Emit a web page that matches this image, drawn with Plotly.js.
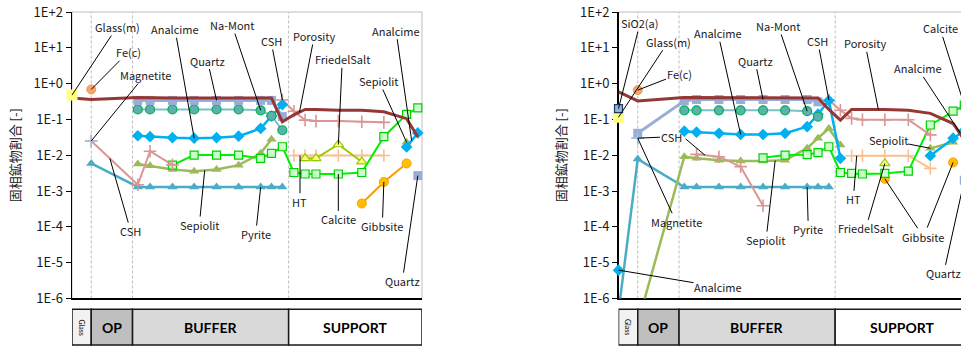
<!DOCTYPE html>
<html>
<head>
<meta charset="utf-8">
<script src="https://cdn.plot.ly/plotly-3.0.1.min.js"></script>
<style>
  html, body { margin: 0; padding: 0; overflow: hidden; background: #fff; }
  #chart { width: 975px; height: 349px; }
</style>
</head>
<body>
<div id="chart"></div>
<script>
// ---- geometry of the cross-section (node positions, 0 = glass, 100 = outer edge of support)
const nodePos = [0, 5.5, 18.8, 22.3, 28.7, 34.9, 41.3, 47.6, 53.9, 57.0, 60.1,
                 63.4, 66.6, 69.7, 76.1, 82.8, 89.1, 95.6, 98.8];
const zoneEdges = [0, 5.5, 17.3, 61.9, 100];
const zoneNames = ['Glass', 'OP', 'BUFFER', 'SUPPORT'];
const yTickVals = [1e-6, 1e-5, 1e-4, 1e-3, 1e-2, 1e-1, 1e0, 1e1, 1e2];
const yTickText = ['1E-6', '1E-5', '1E-4', '1E-3', '1E-2', '1E-1', '1E+0', '1E+1', '1E+2'];
const yTitle = '固相鉱物割合 [-]';

// ---- case A (left panel): solid-phase fractions per node
const porosityA  = [0.40, 0.36, 0.41, 0.40, 0.40, 0.40, 0.40, 0.40, 0.40, 0.40, 0.086, 0.135, 0.19, 0.19, 0.18, 0.18, 0.164, 0.105, 0.033];
const quartzA    = [null, null, 0.34, 0.34, 0.34, 0.34, 0.34, 0.34, 0.34, 0.34, 0.12, null, null, null, null, null, null, null, 0.0027];
const naMontA    = [null, null, 0.19, 0.19, 0.19, 0.19, 0.19, 0.19, 0.18, 0.125, 0.05];
const analcimeA  = [null, null, 0.035, 0.033, 0.031, 0.030, 0.031, 0.034, 0.056, 0.124, 0.26, null, null, null, null, null, null, 0.017, 0.042];
const sepiolitA  = [null, null, 0.0057, 0.0051, 0.0040, 0.0036, 0.0040, 0.0053, 0.0113, 0.028, null, null, null, null, null, null, null, 0.023];
const calciteA   = [null, null, null, null, 0.0053, 0.0101, 0.0101, 0.0101, 0.0082, 0.0113, 0.0173, 0.0033, 0.0030, 0.0030, 0.0030, 0.0033, 0.033, 0.139, 0.21];
const pyriteA    = [null, 0.0059, 0.0013, 0.0013, 0.0013, 0.0013, 0.0013, 0.0013, 0.0013, 0.0013, 0.0013];
const cshA       = [null, 0.025, 0.0015, 0.013, 0.0054, null, null, null, null, null, 0.35, 0.17, 0.096, 0.090, 0.090, 0.086, 0.083];
const htA        = [null, null, null, null, null, null, null, null, null, null, null, 0.0098, 0.0098, 0.0098, 0.0098, 0.0098, 0.0098];
const friedelA   = [null, null, null, null, null, null, null, null, null, null, null, null, 0.0082, 0.0082, 0.020, 0.0066];
const gibbsiteA  = [null, null, null, null, null, null, null, null, null, null, null, null, null, null, null, 0.00045, 0.0018, 0.0059];
const glassmA    = [0.48];
const fecA       = [null, 0.69];
const magnetiteA = [null, 0.025];

// ---- case B (right panel)
const porosityB  = [0.59, 0.33, 0.41, 0.41, 0.41, 0.41, 0.41, 0.40, 0.40, 0.40, 0.19, 0.096, 0.19, 0.19, 0.19, 0.18, 0.148, 0.077, 0.027];
const quartzB    = [null, 0.041, 0.33, 0.36, 0.36, 0.36, 0.36, 0.36, 0.36, 0.31, null, null, null, null, null, null, null, null, 0.002];
const naMontB    = [null, null, 0.18, 0.18, 0.18, 0.18, 0.18, 0.18, 0.17, 0.119];
const analcimeB  = [6.2e-6, null, 0.047, 0.044, 0.041, 0.038, 0.038, 0.041, 0.063, 0.14, 0.34, 0.0082, null, null, null, null, 0.0097, 0.030, 0.05];
const sepiolitB  = [null, 2e-7, 0.0091, 0.0082, 0.0073, 0.0069, 0.0069, 0.0073, 0.0158, 0.030, 0.056, 0.0193, null, null, null, null, 0.0156, 0.023];
const calciteB   = [null, null, null, null, null, null, 0.0085, 0.0101, 0.0104, 0.0119, 0.0173, 0.0033, 0.0031, 0.0030, 0.0031, 0.0036, 0.070, 0.17, 0.25];
const pyriteB    = [4.2e-7, 0.0078, 0.0013, 0.0013, 0.0013, 0.0013, 0.0013, 0.0013, 0.0013, 0.0013, 0.0013];
const cshB       = [null, 0.030, null, 0.0106, 0.0091, 0.0048, 0.00039, null, null, null, 0.35, 0.18, 0.107, 0.098, 0.098, 0.098, 0.037];
const htB        = [null, null, null, null, null, null, null, null, null, null, null, null, 0.0097, 0.0097, 0.0097, 0.0097, 0.0043];
const friedelB   = [null, null, null, null, null, null, null, null, null, null, null, null, null, null, 0.0059];
const gibbsiteB  = [null, null, null, null, null, null, null, null, null, null, null, null, null, null, 0.0022, null, null, 0.0063];
const glassmB    = [0.115];
const sio2B      = [0.20];
const fecB       = [null, 0.66];
const magnetiteB = [null, 0.030];

// ---- series appearance
const crossLine = c => ({ color: c, width: 1.6 });
const styles = {
  pyrite:    { mode: 'lines+markers', line: { color: '#4BACC6', width: 2.5 }, marker: { symbol: 'triangle-up', size: 9, color: '#4BACC6' } },
  ht:        { mode: 'lines+markers', line: { color: '#FAC090', width: 2 }, marker: { symbol: 'cross-thin-open', size: 9, color: '#FAC090', line: crossLine('#FAC090') } },
  gibbsite:  { mode: 'lines+markers', line: { color: '#FF9900', width: 2 }, marker: { symbol: 'circle', size: 9, color: '#FFC000', line: { color: '#FF9900', width: 1 } } },
  friedel:   { mode: 'lines+markers', line: { color: '#99CC00', width: 2 }, marker: { symbol: 'triangle-up', size: 9, color: '#FFFF80', line: { color: '#99CC00', width: 1.2 } } },
  sepiolit:  { mode: 'lines+markers', line: { color: '#9BBB59', width: 2.5 }, marker: { symbol: 'triangle-up', size: 9, color: '#9BBB59' } },
  calcite:   { mode: 'lines+markers', line: { color: '#00F000', width: 2 }, marker: { symbol: 'square', size: 8, color: '#CCFFCC', line: { color: '#00D000', width: 1.2 } } },
  csh:       { mode: 'lines+markers', line: { color: '#D99694', width: 2 }, marker: { symbol: 'cross-thin-open', size: 9, color: '#D99694', line: crossLine('#D99694') } },
  analcime:  { mode: 'lines+markers', line: { color: '#00B0F0', width: 2.5 }, marker: { symbol: 'diamond', size: 9, color: '#00B0F0' } },
  naMont:    { mode: 'lines+markers', line: { color: '#7CC0C8', width: 2 }, marker: { symbol: 'circle', size: 9, color: '#5EAFB0', line: { color: '#00B050', width: 1.2 } } },
  quartz:    { mode: 'lines+markers', line: { color: '#9AADD8', width: 3 }, marker: { symbol: 'square', size: 9, color: '#9AADD8' } },
  porosity:  { mode: 'lines', line: { color: '#953735', width: 3 } },
  glassm:    { mode: 'markers', marker: { symbol: 'square', size: 11, color: '#FFFF80' } },
  sio2:      { mode: 'markers', marker: { symbol: 'square', size: 8, color: '#95B3D7', line: { color: '#1F3864', width: 1.2 } } },
  fec:       { mode: 'markers', marker: { symbol: 'circle', size: 9, color: '#F4A46C', line: { color: '#F79646', width: 1 } } },
  magnetite: { mode: 'markers', marker: { symbol: 'cross-thin-open', size: 9, color: '#9DC3E6', line: crossLine('#9DC3E6') } }
};

// drawing order: first entries sit underneath
const seriesA = {
  pyrite: pyriteA, ht: htA, gibbsite: gibbsiteA, friedel: friedelA, sepiolit: sepiolitA,
  calcite: calciteA, csh: cshA, analcime: analcimeA, naMont: naMontA, quartz: quartzA,
  porosity: porosityA, glassm: glassmA, fec: fecA, magnetite: magnetiteA
};
const seriesB = {
  pyrite: pyriteB, ht: htB, gibbsite: gibbsiteB, friedel: friedelB, sepiolit: sepiolitB,
  calcite: calciteB, csh: cshB, analcime: analcimeB, naMont: naMontB, quartz: quartzB,
  porosity: porosityB, glassm: glassmB, sio2: sio2B, fec: fecB, magnetite: magnetiteB
};
// these two series dip below the axis floor, so their markers must stay clipped
const clipped = new Set(['B:sepiolit', 'B:pyrite']);

function panelTraces(series, tag, xa, ya) {
  return Object.keys(series).map(key => Object.assign({
    type: 'scatter', name: key,
    x: nodePos.slice(0, series[key].length), y: series[key],
    xaxis: xa, yaxis: ya, connectgaps: false, hoverinfo: 'skip',
    cliponaxis: clipped.has(tag + ':' + key)
  }, JSON.parse(JSON.stringify(styles[key]))));
}

const traces = panelTraces(seriesA, 'A', 'x', 'y').concat(panelTraces(seriesB, 'B', 'x2', 'y2'));

// ---- label call-outs: [text, series, node index (fractional = along segment), text x, text log-y]
const labelsA = [
  ['Glass(m)', glassmA, 0, 12.86, 1.581],
  ['Fe(c)', fecA, 1, 16.0, 0.874],
  ['Magnetite', magnetiteA, 1, 20.86, 0.240],
  ['Analcime', analcimeA, 5, 29.43, 1.517],
  ['Quartz', quartzA, 6, 38.71, 0.645],
  ['Na-Mont', naMontA, 8, 45.71, 1.637],
  ['CSH', cshA, 10, 56.86, 1.190],
  ['Porosity', porosityA, 11.5, 69.23, 1.330],
  ['FriedelSalt', friedelA, 14, 77.23, 0.679],
  ['Sepiolit', sepiolitA, 17, 87.71, 0.073],
  ['Analcime', analcimeA, 17.45, 92.57, 1.478],
  ['HT', htA, 11.55, 65.14, -3.299],
  ['Calcite', calciteA, 14, 76.09, -3.791],
  ['Gibbsite', gibbsiteA, 16, 88.66, -3.978],
  ['Quartz', quartzA, 18, 94.37, -5.514],
  ['Pyrite', pyriteA, 8, 52.49, -4.201],
  ['Sepiolit', sepiolitA, 5.47, 36.37, -3.950],
  ['CSH', cshA, 1.4, 16.77, -4.117]
];
const labelsB = [
  ['SiO2(a)', sio2B, 0, 6.14, 1.684],
  ['Glass(m)', glassmB, 0, 14.23, 1.170],
  ['Fe(c)', fecB, 1, 17.29, 0.268],
  ['Analcime', analcimeB, 5, 28.43, 1.405],
  ['Na-Mont', naMontB, 8, 45.66, 1.609],
  ['Quartz', quartzB, 6, 39.0, 0.640],
  ['CSH', cshB, 10, 56.91, 1.190],
  ['Porosity', porosityB, 13.71, 70.43, 1.126],
  ['Analcime', analcimeB, 17.64, 85.49, 0.427],
  ['Calcite', calciteB, 18, 91.86, 1.545],
  ['Sepiolit', sepiolitB, 16, 77.09, -1.575],
  ['CSH', cshB, 1, 15.0, -1.483],
  ['', cshB, 3.38, 19.0, -1.528],
  ['Magnetite', magnetiteB, 1, 16.43, -3.858],
  ['Analcime', analcimeB, 0, 28.43, -5.673],
  ['Sepiolit', sepiolitB, 6.55, 42.14, -4.369],
  ['Pyrite', pyriteB, 8, 54.23, -4.070],
  ['HT', htB, 12.47, 67.09, -3.232],
  ['FriedelSalt', friedelB, 14, 70.63, -4.042],
  ['Gibbsite', gibbsiteB, 14, 87.09, -4.277],
  ['', gibbsiteB, 17, 88.14, -4.034],
  ['Quartz', quartzB, 18, 92.9, -5.299]
];

// point on a series at a (possibly fractional) node index, in axis units (log10 for y)
function seriesPoint(values, idx) {
  const i = Math.floor(idx), t = idx - i;
  const x0 = nodePos[i], y0 = Math.log10(values[i]);
  if (t === 0) return [x0, y0];
  const x1 = nodePos[i + 1], y1 = Math.log10(values[i + 1]);
  return [x0 + t * (x1 - x0), y0 + t * (y1 - y0)];
}

function callouts(labels, xa, ya) {
  return labels.map(([text, values, idx, tx, ty]) => {
    const [px, py] = seriesPoint(values, idx);
    return {
      xref: xa, yref: ya, axref: xa, ayref: ya,
      x: px, y: py, ax: tx, ay: ty, text: text,
      showarrow: true, arrowhead: 0, arrowwidth: 1, arrowcolor: '#000',
      standoff: 0, startstandoff: 0, borderpad: 0,
      font: { size: 11, color: '#1a1a1a' }
    };
  });
}

// ---- zone band under each panel and zone boundary lines
const zoneFill = ['#F2F2F2', '#BFBFBF', '#D9D9D9', '#FFFFFF'];
const bandY = [0.0115, 0.1138];

function zoneShapes(xa, ya) {
  const out = [{
    type: 'rect', xref: xa + ' domain', yref: ya + ' domain', x0: 0, x1: 1, y0: 0, y1: 1,
    line: { color: '#BFBFBF', width: 1 }, layer: 'below'
  }];
  zoneEdges.slice(1, -1).forEach(e => out.push({
    type: 'line', xref: xa, yref: ya + ' domain', x0: e, x1: e, y0: 0, y1: 1,
    line: { color: '#BDBDBD', width: 1, dash: '3px,2px' }, layer: 'below'
  }));
  zoneNames.forEach((n, k) => out.push({
    type: 'rect', xref: xa, yref: 'paper', x0: zoneEdges[k], x1: zoneEdges[k + 1],
    y0: bandY[0], y1: bandY[1], fillcolor: zoneFill[k], line: { color: '#1a1a1a', width: 1.5 }
  }));
  return out;
}

function zoneLabels(xa) {
  return zoneNames.map((n, k) => {
    const glass = k === 0;
    return {
      xref: xa, yref: 'paper', x: (zoneEdges[k] + zoneEdges[k + 1]) / 2, y: (bandY[0] + bandY[1]) / 2,
      xanchor: 'center', yanchor: 'middle',
      text: glass ? n : '<b>' + n + '</b>', showarrow: false, textangle: glass ? 90 : 0,
      font: { family: 'Lato, sans-serif', size: glass ? 7 : 14, color: '#000' }
    };
  });
}

function yAxis(anchor) {
  return {
    domain: [0.1447, 0.9656], anchor: anchor, type: 'log', range: [-6, 2],
    tickvals: yTickVals, ticktext: yTickText, ticks: 'outside', ticklen: 5, tickcolor: '#000',
    showline: true, linecolor: '#000', linewidth: 1.5, showgrid: false, zeroline: false,
    tickfont: { size: 13, color: '#1a1a1a' }, layer: 'below traces',
    title: { text: yTitle, font: { size: 13, color: '#1a1a1a' }, standoff: 10 }
  };
}
function xAxis(domain, anchor) {
  return {
    domain: domain, anchor: anchor, range: [0, 100], showgrid: false, zeroline: false,
    showticklabels: false, ticks: '', showline: true, linecolor: '#000', linewidth: 1.5,
    layer: 'below traces'
  };
}

const layout = {
  width: 975, height: 349,
  margin: { l: 0, r: 0, t: 0, b: 0 },
  paper_bgcolor: '#fff', plot_bgcolor: '#fff',
  showlegend: false,
  font: { family: '"Noto Sans CJK JP", "Noto Sans", sans-serif', size: 11, color: '#1a1a1a' },
  xaxis: xAxis([72 / 975, 422 / 975], 'y'),
  yaxis: yAxis('x'),
  xaxis2: xAxis([618.5 / 975, 968.5 / 975], 'y2'),
  yaxis2: yAxis('x2'),
  shapes: zoneShapes('x', 'y').concat(zoneShapes('x2', 'y2')),
  annotations: callouts(labelsA, 'x', 'y').concat(callouts(labelsB, 'x2', 'y2'))
    .concat(zoneLabels('x')).concat(zoneLabels('x2'))
};

Plotly.newPlot('chart', traces, layout, { staticPlot: true, displayModeBar: false });
</script>
</body>
</html>
